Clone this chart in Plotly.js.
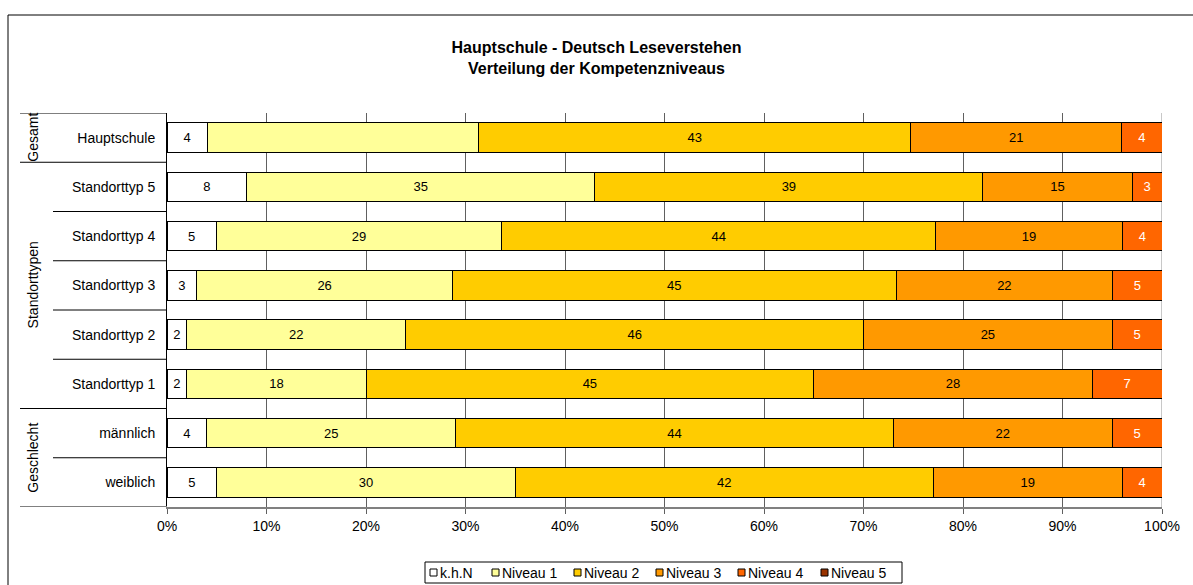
<!DOCTYPE html>
<html>
<head>
<meta charset="utf-8">
<script src="https://cdn.plot.ly/plotly-3.0.1.min.js"></script>
<style>
  html, body { margin: 0; padding: 0; background: #fff; overflow: hidden; }
  #chart { width: 1193px; height: 585px; display: block; }
</style>
</head>
<body>
<div id="chart"></div>
<script>
// categories, top to bottom
let categories = ['Hauptschule', 'Standorttyp 5', 'Standorttyp 4', 'Standorttyp 3',
                  'Standorttyp 2', 'Standorttyp 1', 'männlich', 'weiblich'];

// values per level (percent)
let khn     = [4, 8, 5, 3, 2, 2, 4, 5];
let niveau1 = [27, 35, 29, 26, 22, 18, 25, 30];
let niveau2 = [43, 39, 44, 45, 46, 45, 44, 42];
let niveau3 = [21, 15, 19, 22, 25, 28, 22, 19];
let niveau4 = [4, 3, 4, 5, 5, 7, 5, 4];
let niveau5 = [0, 0, 0, 0, 0, 0, 0, 0];

let seriesNames = ['k.h.N', 'Niveau 1', 'Niveau 2', 'Niveau 3', 'Niveau 4', 'Niveau 5'];
let seriesColors = ['#ffffff', '#ffff99', '#ffcc00', '#ff9900', '#ff6600', '#993300'];
let textColors = ['#000', '#000', '#000', '#000', '#fff', '#fff'];

let groups = [
    {name: 'Gesamt', center: 0},
    {name: 'Standorttypen', center: 3},
    {name: 'Geschlecht', center: 6.5}
];
let groupBounds = [-0.5, 0.5, 5.5, 7.5];
let innerBounds = [1.5, 2.5, 3.5, 4.5, 6.5];

let allValues = [khn, niveau1, niveau2, niveau3, niveau4, niveau5];

let font = '"Liberation Sans", Arial, sans-serif';

// plot area in pixels (margins below)
const L = 167, R = 31, T = 113, B = 78, W = 1193, H = 585;
const plotW = W - L - R, plotH = H - T - B;
function px2x(px) { return (px - L) / plotW; }
function px2y(py) { return (H - B - py) / plotH; }

let traces = allValues.map((vals, i) => {
    let labels = vals.map(v => (v > 0 ? String(v) : ''));
    // the original leaves this one unlabeled
    if (i === 1) labels[0] = '';
    return {
        type: 'bar',
        orientation: 'h',
        name: seriesNames[i],
        y: categories,
        x: vals,
        text: labels,
        textposition: 'inside',
        insidetextanchor: 'middle',
        textangle: 0,
        constraintext: 'none',
        textfont: {family: font, size: 13, color: textColors[i]},
        marker: {color: seriesColors[i], line: {color: '#000', width: 1}},
        hoverinfo: 'name+x',
        showlegend: false
    };
});

// separator lines left of the axis
let shapes = [];
groupBounds.forEach(b => {
    shapes.push({type: 'line', xref: 'paper', yref: 'y', x0: px2x(20), x1: 0, y0: b, y1: b,
        line: {color: b === 7.5 ? '#808080' : '#000', width: b === 7.5 ? 2 : 1}});
});
innerBounds.forEach(b => {
    shapes.push({type: 'line', xref: 'paper', yref: 'y', x0: px2x(53), x1: 0, y0: b, y1: b,
        line: {color: '#000', width: 1}});
});
// light line at 100%
shapes.push({type: 'line', xref: 'x', yref: 'paper', x0: 100, x1: 100, y0: 0, y1: 1,
    layer: 'below', line: {color: '#c8c8c8', width: 2}});
// outer chart frame (only top and left edges are inside the picture)
shapes.push({type: 'line', xref: 'paper', yref: 'paper', x0: px2x(8), x1: px2x(W), y0: px2y(15), y1: px2y(15),
    line: {color: '#000', width: 1}});
shapes.push({type: 'line', xref: 'paper', yref: 'paper', x0: px2x(8), x1: px2x(8), y0: px2y(15), y1: px2y(H),
    line: {color: '#000', width: 1}});

let annotations = groups.map(g => ({
    xref: 'paper', yref: 'y', x: px2x(33), y: g.center,
    text: g.name, textangle: -90, showarrow: false,
    xanchor: 'center', yanchor: 'middle',
    font: {family: font, size: 14, color: '#000'}
}));

// legend drawn by hand (Excel style, compact)
let legendStarts = [430, 492, 574, 656, 738, 821];
shapes.push({type: 'rect', xref: 'paper', yref: 'paper', x0: px2x(425), x1: px2x(902), y0: px2y(583), y1: px2y(562),
    line: {color: '#000', width: 1}, fillcolor: '#fff'});
seriesNames.forEach((name, i) => {
    let sx = legendStarts[i];
    shapes.push({type: 'rect', xref: 'paper', yref: 'paper',
        x0: px2x(sx), x1: px2x(sx + 7), y0: px2y(576), y1: px2y(569),
        line: {color: '#000', width: 1}, fillcolor: seriesColors[i]});
    annotations.push({xref: 'paper', yref: 'paper', x: px2x(sx + 8), y: px2y(572.5),
        text: name, showarrow: false, xanchor: 'left', yanchor: 'middle',
        font: {family: font, size: 14, color: '#000'}});
});

let layout = {
    width: W,
    height: H,
    margin: {l: L, r: R, t: T, b: B},
    paper_bgcolor: '#fff',
    plot_bgcolor: '#fff',
    barmode: 'stack',
    barnorm: 'percent',
    bargap: 0.4,
    showlegend: false,
    font: {family: font, size: 14, color: '#000'},
    title: {
        text: '<b>Hauptschule - Deutsch Leseverstehen<br>Verteilung der Kompetenzniveaus</b>',
        font: {family: font, size: 16, color: '#000'},
        x: 0.5, xanchor: 'center',
        yref: 'container', y: 0.909, yanchor: 'top'
    },
    xaxis: {
        range: [0, 100],
        dtick: 10,
        ticksuffix: '%',
        showgrid: true,
        gridcolor: '#606060',
        gridwidth: 1,
        showline: true,
        linecolor: '#808080',
        linewidth: 2,
        ticks: 'outside',
        ticklen: 5,
        tickcolor: '#606060',
        zeroline: false,
        automargin: false,
        tickfont: {family: font, size: 14, color: '#000'},
        fixedrange: true
    },
    yaxis: {
        categoryorder: 'array',
        categoryarray: categories,
        range: [7.5, -0.5],
        showline: true,
        linecolor: '#000',
        linewidth: 1,
        ticks: '',
        ticklabelstandoff: 8,
        showgrid: false,
        zeroline: false,
        automargin: false,
        tickfont: {family: font, size: 14, color: '#000'},
        fixedrange: true
    },
    shapes: shapes,
    annotations: annotations
};

Plotly.newPlot('chart', traces, layout, {displayModeBar: false, staticPlot: true});
</script>
</body>
</html>
